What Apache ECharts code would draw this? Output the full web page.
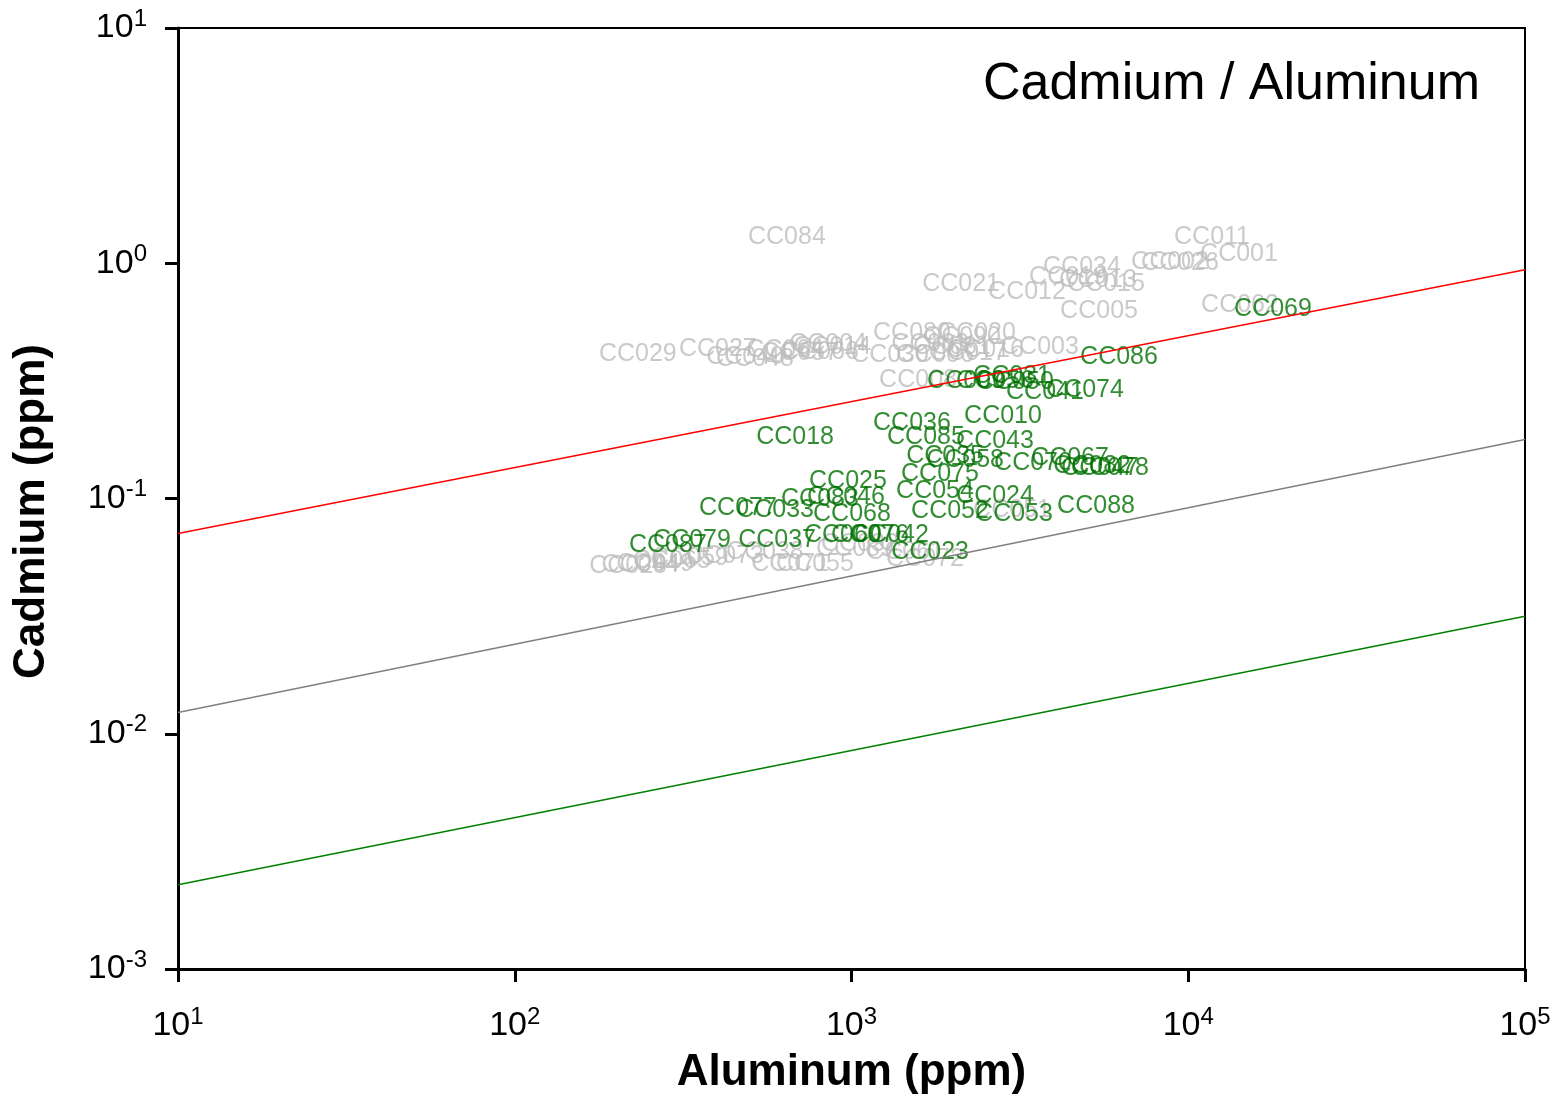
<!DOCTYPE html>
<html>
<head>
<meta charset="utf-8">
<script src="https://cdn.jsdelivr.net/npm/echarts@6/dist/echarts.min.js"></script>
<style>html,body{margin:0;padding:0;background:#fff}#c{width:1559px;height:1100px}</style>
</head>
<body>
<div id="c"></div>
<script>
// Grey-labelled samples
const greyLabels = ['CC084','CC011','CC001','CC002','CC026','CC034','CC019','CC013','CC015','CC021','CC012','CC005','CC062',
  'CC029','CC027','CC040','CC048','CC064','CC057','CC004','CC014','CC066',
  'CC080','CC020','CC090','CC063','CC081','CC016','CC017','CC030','CC006','CC003','CC008','CC051',
  'CC028','CC044','CC049','CC065','CC059','CC073','CC071','CC055','CC089','CC061','CC072','CC032','CC038'];
const greyAl = [643,11765,14150,8827,9452,4835,4394,5395,5698,2115,3320,5433,14246,
  232,401,483,517,635,703,852,876,806,
  1512,2358,2129,1711,1988,2491,2218,1301,1770,3628,1576,2997,
  217,236,261,293,331,421,657,779,1024,1441,1653,1059,553];
const greyCd = [1.296,1.296,1.097,1.015,1.005,0.966,0.876,0.851,0.818,0.818,0.757,0.628,0.666,
  0.409,0.433,0.401,0.393,0.429,0.417,0.455,0.438,0.421,
  0.507,0.507,0.487,0.451,0.442,0.429,0.413,0.405,0.405,0.442,0.320,0.0889,
  0.0514,0.0519,0.0524,0.054,0.0556,0.0567,0.0524,0.0524,0.0607,0.059,0.0551,0.0638,0.059];

// Green-labelled samples
const greenLabels = ['CC069','CC086','CC074','CC041','CC031','CC050','CC056','CC009','CC036','CC010','CC085','CC043',
  'CC035','CC058','CC070','CC067','CC047','CC078','CC082','CC075','CC025','CC054','CC024','CC088','CC052','CC053',
  'CC018','CC077','CC033','CC083','CC046','CC068','CC079','CC087','CC037','CC076','CC042','CC060','CC023'];
const greenAl = [17850,6229,4935,3754,2997,3059,2668,2188,1512,2818,1664,2668,
  1896,2174,3459,4455,5470,5854,5180,1831,976,1770,2668,5323,1961,3038,
  680,460,593,806,963,1003,336,285,601,1135,1301,943,1711];
const greenCd = [0.641,0.401,0.290,0.282,0.330,0.311,0.314,0.317,0.210,0.225,0.182,0.175,
  0.152,0.146,0.141,0.149,0.134,0.134,0.137,0.1264,0.119,0.108,0.102,0.0925,0.0881,0.0855,
  0.182,0.0907,0.0889,0.099,0.101,0.0855,0.0663,0.0632,0.0663,0.0697,0.0697,0.0697,0.059];

// Reference lines (end points at Al = 10 and 100000 ppm)
const lineAl = [10, 100000];
const redLineCd = [0.071, 0.938];
const grayLineCd = [0.0123, 0.178];
const greenLineCd = [0.00228, 0.0316];

const FONT = '"Liberation Sans", Arial, sans-serif';

function pts(names, xs, ys){ return names.map((n,i)=>({name:n, value:[xs[i], ys[i]]})); }
function line(xs, ys){ return xs.map((x,i)=>[x, ys[i]]); }
function expFmt(v){ const e = Math.round(Math.log10(v)); return '{b|10}{s|' + e + '}'; }
const rich = {
  b:{fontSize:34, fontFamily:FONT, color:'#000', lineHeight:42},
  s:{fontSize:24, fontFamily:FONT, color:'#000', verticalAlign:'top', lineHeight:42, padding:[0,0,14,0]}
};

const chart = echarts.init(document.getElementById('c'), null, {renderer:'canvas'});
const labelBase = {show:true, position:'inside', formatter:'{b}', fontSize:25, fontFamily:FONT};
chart.setOption({
  animation:false,
  backgroundColor:'#fff',
  title:{text:'Cadmium / Aluminum', right:79, top:59, padding:0,
    textStyle:{fontSize:52, fontWeight:'normal', color:'#000', fontFamily:FONT}},
  grid:{left:178, top:28, right:34, bottom:130, show:true, borderColor:'#000', borderWidth:2, backgroundColor:'transparent'},
  xAxis:{type:'log', logBase:10, min:10, max:100000,
    name:'Aluminum (ppm)', nameLocation:'middle', nameGap:82,
    nameTextStyle:{fontSize:44, fontWeight:'bold', color:'#000', fontFamily:FONT},
    axisLine:{show:true, lineStyle:{color:'#000', width:3}},
    axisTick:{show:true, inside:false, length:13, lineStyle:{color:'#000', width:3}},
    minorTick:{show:false}, splitLine:{show:false},
    axisLabel:{margin:36, formatter:expFmt, rich:rich}},
  yAxis:{type:'log', logBase:10, min:0.001, max:10,
    name:'Cadmium (ppm)', nameLocation:'middle', nameGap:124,
    nameTextStyle:{fontSize:44, fontWeight:'bold', color:'#000', fontFamily:FONT, padding:[0,26,0,0]},
    axisLine:{show:true, lineStyle:{color:'#000', width:3}},
    axisTick:{show:true, inside:false, length:13, lineStyle:{color:'#000', width:3}},
    minorTick:{show:false}, splitLine:{show:false},
    axisLabel:{margin:31, formatter:expFmt, rich:rich}},
  series:[
    {type:'line', data:line(lineAl, redLineCd), symbol:'none', lineStyle:{color:'#ff0000', width:1.5}, silent:true},
    {type:'line', data:line(lineAl, grayLineCd), symbol:'none', lineStyle:{color:'#808080', width:1.5}, silent:true},
    {type:'line', data:line(lineAl, greenLineCd), symbol:'none', lineStyle:{color:'#008000', width:1.5}, silent:true},
    {type:'scatter', data:pts(greyLabels, greyAl, greyCd), symbolSize:0, silent:true,
      label:Object.assign({color:'#bdbdbd'}, labelBase)},
    {type:'scatter', data:pts(greenLabels, greenAl, greenCd), symbolSize:0, silent:true,
      label:Object.assign({color:'#007000'}, labelBase)}
  ]
});
</script>
</body>
</html>
